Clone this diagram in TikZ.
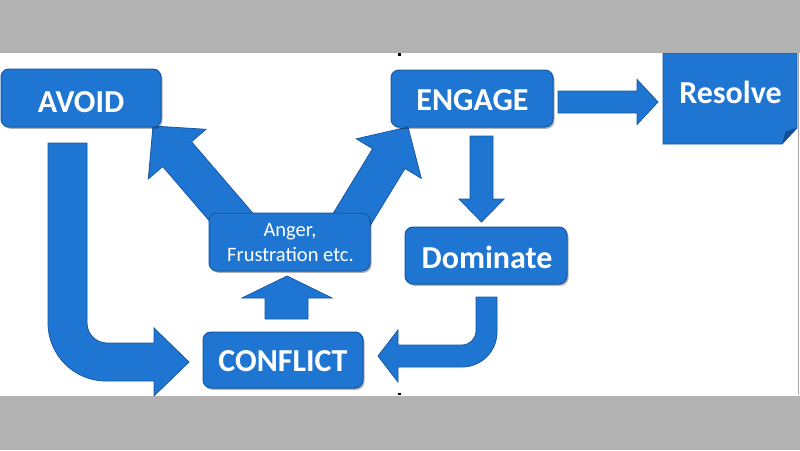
\documentclass[tikz,border=0pt]{standalone}
\usepackage{fontspec}
\setmainfont{Carlito}
\usetikzlibrary{shadows}
\definecolor{boxblue}{RGB}{31,118,210}
\definecolor{edgeblue}{RGB}{22,88,165}
\definecolor{foldblue}{RGB}{20,78,150}
\definecolor{bargray}{RGB}{179,179,179}
\begin{document}
\begin{tikzpicture}[x=1pt,y=-1pt,
  box/.style={draw=edgeblue, line width=1pt, fill=boxblue, rounded corners=8pt, inner sep=0pt,
    drop shadow={shadow xshift=1.5pt,shadow yshift=-1.8pt,opacity=0.3,fill=black}},
  blk/.style={draw=edgeblue, line width=0.8pt, fill=boxblue, line join=miter},
  lbl/.style={text=white, font=\bfseries\fontsize{32}{36}\selectfont, anchor=base, inner sep=0pt},
  sm/.style={text=white, font=\fontsize{20.5}{25}\selectfont, anchor=base, inner sep=0pt}]
\useasboundingbox (0,0) rectangle (800,450);
\fill[white] (0,0) rectangle (800,450);

% --- block arrows ---
% Anger -> AVOID
\draw[blk] (153,126) -- (205.9,129.3) -- (191.5,141.7) -- (261.9,223.7) -- (233.1,248.5)
  -- (162.7,166.5) -- (148.3,178.9) -- cycle;
% Anger -> ENGAGE
\draw[blk] (408,127) -- (421.3,178.4) -- (405,168.5) -- (357.6,246.2) -- (325.2,226.4)
  -- (372.6,148.7) -- (356.3,138.8) -- cycle;
% ENGAGE -> Resolve
\draw[blk] (558,91) -- (637,91) -- (637,79.5) -- (658,102) -- (637,124.5) -- (637,113) -- (558,113) -- cycle;
% ENGAGE -> Dominate
\draw[blk] (470,136) -- (493,136) -- (493,199) -- (504,199) -- (481.5,222) -- (459,199) -- (470,199) -- cycle;
% CONFLICT -> Anger
\draw[blk] (265,319) -- (265,298) -- (242,298) -- (287,276) -- (332,298) -- (308,298) -- (308,319) -- cycle;
% AVOID -> CONFLICT (bent)
\draw[blk] (48,143) -- (87,143) -- (87,323) .. controls (87,334) and (96,343) .. (107,343)
  -- (154,343) -- (154,328) -- (189,362) -- (154,396) -- (154,381) -- (106,381)
  .. controls (74,381) and (48,355) .. (48,323) -- cycle;
% Dominate -> CONFLICT (bent)
\draw[blk] (476,297) -- (497,297) -- (497,332) .. controls (497,351.3) and (481.3,367) .. (462,367)
  -- (398,367) -- (398,382) -- (378,356) -- (398,330) -- (398,345) -- (462,345)
  .. controls (469.7,345) and (476,338.7) .. (476,331) -- cycle;

% --- boxes ---
\node[box, minimum width=160pt, minimum height=58pt] (avoid) at (81,98) {};
\node[box, minimum width=162pt, minimum height=57pt] (engage) at (472,98.5) {};
\node[box, minimum width=162pt, minimum height=57pt] (dominate) at (486,255.5) {};
\node[box, minimum width=160pt, minimum height=56pt] (conflict) at (283,360) {};
\node[box, minimum width=161pt, minimum height=58pt] (anger) at (289.5,242) {};

% Resolve (folded corner)
\draw[draw=edgeblue, line width=0.8pt, fill=boxblue] (663,53) -- (797,53) -- (797,128) -- (782,144) -- (663,144) -- cycle;
\fill[foldblue] (782,144) -- (785.5,131.5) -- (797,128) -- cycle;

% --- texts ---
\node[lbl] (avoidtxt) at (81,112) {AVOID};
\node[lbl] (engagetxt) at (472.5,110) {ENGAGE};
\node[lbl] (dominatetxt) at (487,268) {Dominate};
\node[lbl] (conflicttxt) at (283,371.5) {CONFLICT};
\node[lbl] (resolvetxt) at (730.5,103) {Resolve};
\node[sm] (angertxt1) at (290,236.7) {Anger,};
\node[sm] (angertxt2) at (290.5,261.7) {Frustration etc.};

% --- slide frame bits ---
\draw[gray!70, line width=0.6pt] (798.5,53) -- (798.5,395);
\fill[black] (398,53) rectangle (400.5,55.5);
\fill[black] (398,392.5) rectangle (400.5,395);

% --- gray bars ---
\fill[bargray] (0,0) rectangle (800,53);
\fill[bargray] (0,395.5) rectangle (800,450);
\end{tikzpicture}
\end{document}
